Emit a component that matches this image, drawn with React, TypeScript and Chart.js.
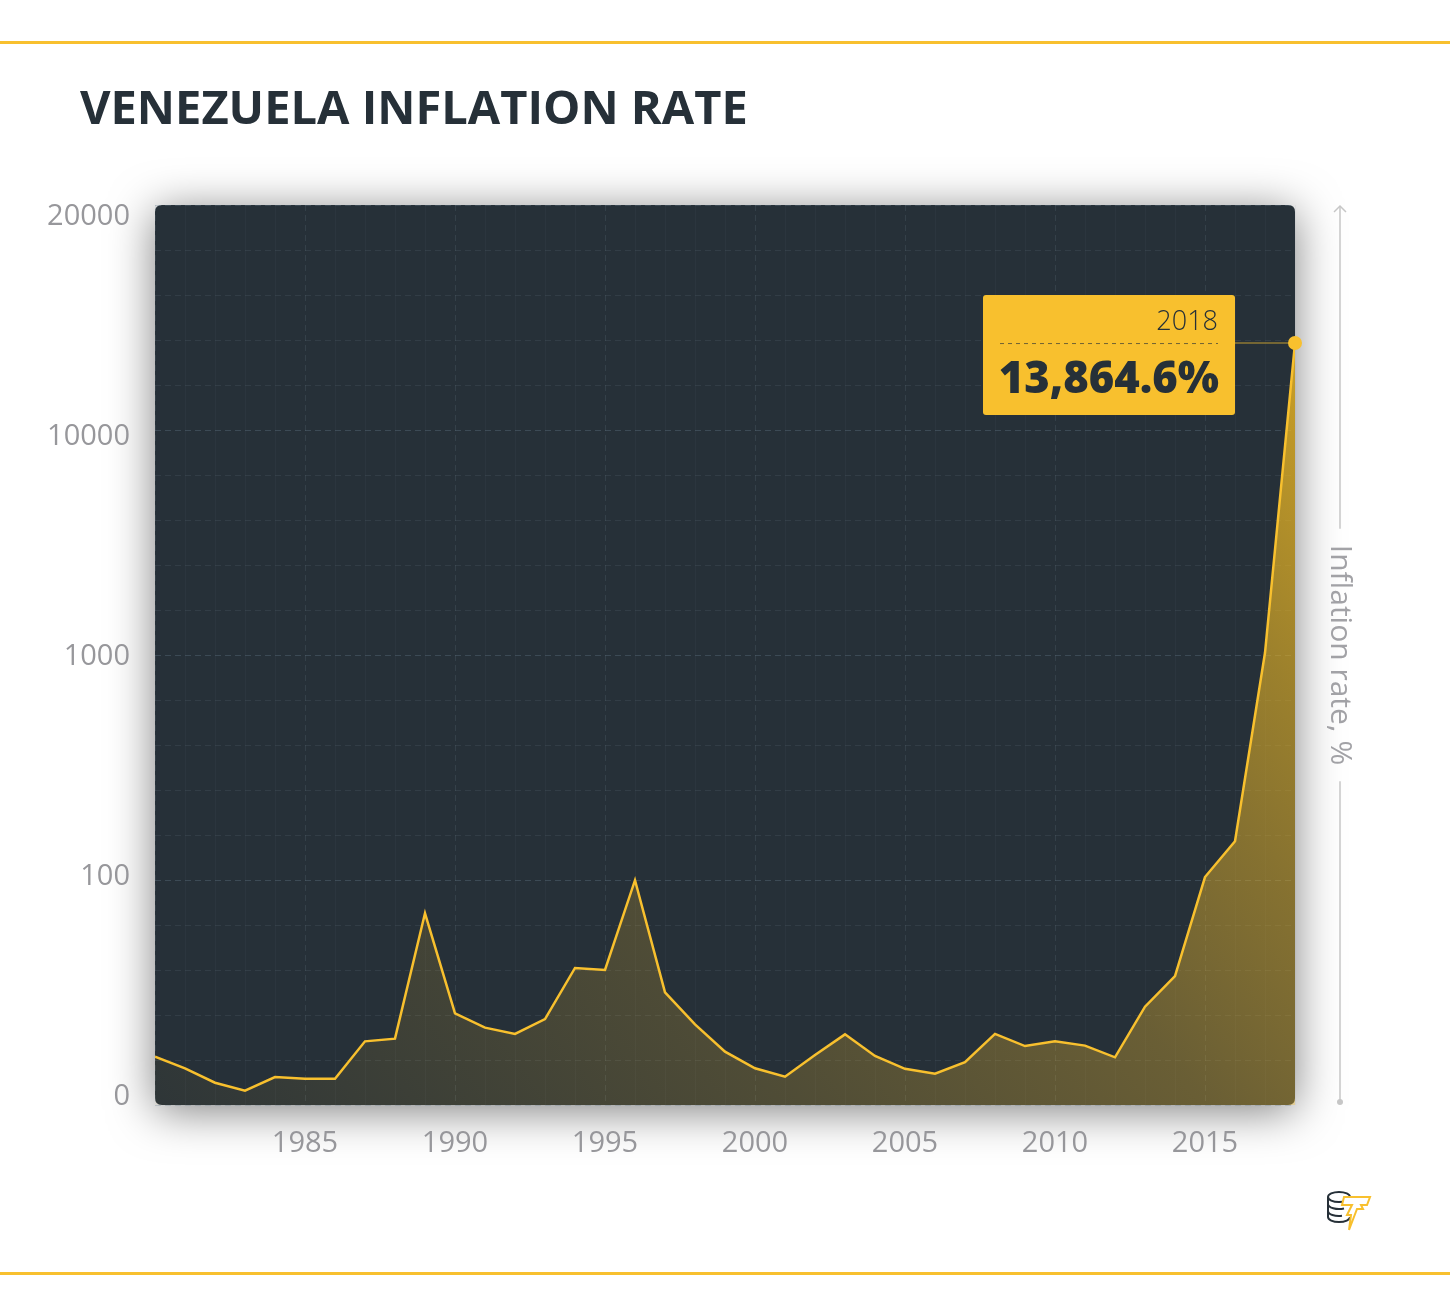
import React, { useEffect, useRef } from 'react';
import { Chart, registerables, LinearScale } from 'chart.js';

Chart.register(...registerables);

// ---------- data ----------
const years = [
  1980, 1981, 1982, 1983, 1984, 1985, 1986, 1987, 1988, 1989,
  1990, 1991, 1992, 1993, 1994, 1995, 1996, 1997, 1998, 1999,
  2000, 2001, 2002, 2003, 2004, 2005, 2006, 2007, 2008, 2009,
  2010, 2011, 2012, 2013, 2014, 2015, 2016, 2017, 2018,
];
const inflation = [
  21.5, 16.3, 9.9, 6.4, 12.4, 11.7, 11.7, 28.3, 29.5, 85.2,
  40.7, 34.4, 31.6, 38.2, 60.9, 60.0, 99.9, 50.1, 35.8, 23.7,
  16.3, 12.6, 22.2, 31.4, 21.8, 16.1, 13.9, 19.0, 31.6, 26.2,
  28.3, 26.4, 21.2, 43.7, 57.3, 111.8, 254.9, 1087.5, 13864.6,
];
const yTickValues = [0, 100, 1000, 10000, 20000];
const xLabelYears = [1985, 1990, 1995, 2000, 2005, 2010, 2015];
const titleText = 'VENEZUELA INFLATION RATE';
const axisTitle = 'Inflation rate, %';

// ---------- piecewise-linear y scale (equal spacing between break ticks) ----------
const toIndex = (v: number) => {
  const b = yTickValues;
  if (v <= b[0]) return 0;
  for (let i = 1; i < b.length; i++) {
    if (v <= b[i]) return i - 1 + (v - b[i - 1]) / (b[i] - b[i - 1]);
  }
  return b.length - 1;
};
const fromIndex = (idx: number) => {
  const b = yTickValues;
  const i = Math.max(0, Math.min(b.length - 2, Math.floor(idx)));
  return b[i] + (idx - i) * (b[i + 1] - b[i]);
};

class PiecewiseScale extends (LinearScale as any) {
  static id = 'piecewise';
  static defaults = {};
  determineDataLimits() {
    this.min = yTickValues[0];
    this.max = yTickValues[yTickValues.length - 1];
  }
  buildTicks() {
    const ticks: any[] = [];
    for (let i = 0; i < yTickValues.length; i++) {
      ticks.push({ value: yTickValues[i], major: true });
      if (i < yTickValues.length - 1) {
        for (let k = 1; k < 5; k++) {
          ticks.push({
            value: yTickValues[i] + ((yTickValues[i + 1] - yTickValues[i]) * k) / 5,
            major: false,
          });
        }
      }
    }
    return ticks;
  }
  getPixelForValue(value: number) {
    if (value === null || value === undefined || isNaN(value)) return NaN;
    return this.getPixelForDecimal(toIndex(value) / (yTickValues.length - 1));
  }
  getValueForPixel(pixel: number) {
    return fromIndex(this.getDecimalForPixel(pixel) * (yTickValues.length - 1));
  }
}
Chart.register(PiecewiseScale as any);

// ---------- styles ----------
const YELLOW = '#f8c02e';
const DARK = '#263038';
const GRAY_TEXT = '#97979b';
const FONT = "'Open Sans', 'Noto Sans', sans-serif";

const roundRectPath = (ctx: CanvasRenderingContext2D, x: number, y: number, w: number, h: number, r: number) => {
  ctx.beginPath();
  ctx.moveTo(x + r, y);
  ctx.lineTo(x + w - r, y);
  ctx.quadraticCurveTo(x + w, y, x + w, y + r);
  ctx.lineTo(x + w, y + h - r);
  ctx.quadraticCurveTo(x + w, y + h, x + w - r, y + h);
  ctx.lineTo(x + r, y + h);
  ctx.quadraticCurveTo(x, y + h, x, y + h - r);
  ctx.lineTo(x, y + r);
  ctx.quadraticCurveTo(x, y, x + r, y);
  ctx.closePath();
};

const panelPlugin = {
  id: 'panel',
  beforeDraw(chart: any) {
    const { ctx, chartArea: a } = chart;
    ctx.save();
    ctx.shadowColor = 'rgba(0,0,0,0.5)';
    ctx.shadowBlur = 45;
    ctx.shadowOffsetY = 6;
    ctx.fillStyle = DARK;
    roundRectPath(ctx, a.left, a.top, a.right - a.left, a.bottom - a.top, 7);
    ctx.fill();
    ctx.restore();
  },
  beforeDatasetDraw(chart: any, args: any) {
    if (args.index !== 0) return;
    const { ctx, chartArea: a } = chart;
    ctx.save();
    roundRectPath(ctx, a.left, a.top, a.right - a.left, a.bottom - a.top, 7);
    ctx.clip();
  },
  afterDatasetDraw(chart: any, args: any) {
    if (args.index !== 0) return;
    chart.ctx.restore();
  },
};

const decorPlugin = {
  id: 'decor',
  afterDraw(chart: any) {
    const { ctx, chartArea: a } = chart;
    // right-side axis line with title
    const x = a.right + 45;
    const cy = (a.top + a.bottom) / 2;
    ctx.save();
    ctx.font = `30px ${FONT}`;
    const tw = ctx.measureText(axisTitle).width;
    ctx.strokeStyle = '#c6c6c6';
    ctx.lineWidth = 1.5;
    ctx.beginPath();
    ctx.moveTo(x, a.top + 1);
    ctx.lineTo(x, cy - tw / 2 - 16);
    ctx.moveTo(x, cy + tw / 2 + 16);
    ctx.lineTo(x, a.bottom - 3);
    ctx.stroke();
    ctx.beginPath();
    ctx.moveTo(x - 6, a.top + 7);
    ctx.lineTo(x, a.top + 1);
    ctx.lineTo(x + 6, a.top + 7);
    ctx.stroke();
    ctx.fillStyle = '#c6c6c6';
    ctx.beginPath();
    ctx.arc(x, a.bottom - 3, 3, 0, Math.PI * 2);
    ctx.fill();
    ctx.translate(x, cy);
    ctx.rotate(Math.PI / 2);
    ctx.fillStyle = '#a2a2a6';
    ctx.textAlign = 'center';
    ctx.textBaseline = 'middle';
    ctx.fillText(axisTitle, 0, 0);
    ctx.restore();

    // callout for the last point
    const meta = chart.getDatasetMeta(1);
    const last = meta.data[meta.data.length - 1];
    if (!last) return;
    const px = last.x;
    const py = last.y;
    const w = 252;
    const h = 120;
    const right = px - 60;
    const left = right - w;
    const top = py - 48;
    ctx.save();
    ctx.strokeStyle = 'rgba(248,192,46,0.5)';
    ctx.lineWidth = 1.5;
    ctx.beginPath();
    ctx.moveTo(right, py);
    ctx.lineTo(px - 6, py);
    ctx.stroke();
    ctx.fillStyle = YELLOW;
    roundRectPath(ctx, left, top, w, h, 3);
    ctx.fill();
    ctx.fillStyle = DARK;
    ctx.textAlign = 'right';
    ctx.textBaseline = 'alphabetic';
    ctx.font = `300 27px ${FONT}`;
    ctx.fillText(String(years[years.length - 1]), right - 17, py - 13);
    ctx.strokeStyle = 'rgba(38,48,56,0.65)';
    ctx.lineWidth = 1;
    ctx.setLineDash([4, 4]);
    ctx.beginPath();
    ctx.moveTo(left + 17, py + 0.5);
    ctx.lineTo(right - 17, py + 0.5);
    ctx.stroke();
    ctx.setLineDash([]);
    ctx.font = `800 43.5px ${FONT}`;
    const val = inflation[inflation.length - 1].toLocaleString('en-US', {
      minimumFractionDigits: 1,
      maximumFractionDigits: 1,
    });
    ctx.fillText(val + '%', right - 16, py + 50);
    ctx.restore();
  },
};

function ChartCanvas() {
  const ref = useRef<HTMLCanvasElement | null>(null);
  useEffect(() => {
    if (!ref.current) return;
    const points = years.map((yr, i) => ({ x: yr, y: inflation[i] }));
    const lastIdx = points.length - 1;
    const fillGradient = (c: any) => {
      const chart = c.chart;
      const a = chart.chartArea;
      if (!a) return 'rgba(248,192,46,0.3)';
      const g = chart.ctx.createLinearGradient(a.left, a.bottom, a.right, a.top);
      g.addColorStop(0, 'rgba(248,192,46,0.04)');
      g.addColorStop(0.35, 'rgba(248,192,46,0.2)');
      g.addColorStop(0.57, 'rgba(248,192,46,0.32)');
      g.addColorStop(0.7, 'rgba(240,186,40,0.47)');
      g.addColorStop(0.79, 'rgba(240,186,36,0.58)');
      g.addColorStop(0.91, 'rgba(244,188,34,0.75)');
      g.addColorStop(1, 'rgba(248,192,40,0.88)');
      return g;
    };
    const chart = new Chart(ref.current, {
      type: 'line',
      data: {
        datasets: [
          {
            data: points,
            borderColor: YELLOW,
            borderWidth: 2.5,
            backgroundColor: fillGradient,
            fill: 'start',
            pointRadius: 0,
            tension: 0,
            clip: false as any,
          },
          {
            data: points,
            showLine: false,
            fill: false,
            pointRadius: (c: any) => (c.dataIndex === lastIdx ? 7 : 0),
            pointBackgroundColor: YELLOW,
            pointBorderWidth: 0,
            clip: false as any,
          },
        ],
      },
      options: {
        animation: false,
        responsive: false,
        devicePixelRatio: 1,
        events: [],
        layout: { padding: { left: 0, right: 155, top: 205, bottom: 111 } },
        plugins: { legend: { display: false }, tooltip: { enabled: false } },
        scales: {
          x: {
            type: 'linear',
            min: years[0],
            max: years[years.length - 1],
            ticks: {
              stepSize: 1,
              autoSkip: false,
              maxRotation: 0,
              padding: 21,
              color: GRAY_TEXT,
              font: { family: FONT, size: 29 },
              callback: (v: any) => (xLabelYears.includes(Number(v)) ? String(v) : ''),
            },
            grid: {
              drawTicks: false,
              color: (c: any) =>
                c.tick && c.tick.value % 5 === 0 ? 'rgba(110,130,145,0.2)' : 'rgba(110,130,145,0.07)',
              lineWidth: 1,
            },
            border: {
              display: false,
              dash: (c: any) => (c.tick && c.tick.value % 5 === 0 ? [6, 4] : []),
            },
            afterFit: (s: any) => {
              s.height = 100;
            },
          },
          y: {
            type: 'piecewise' as any,
            position: 'left',
            ticks: { display: false },
            grid: {
              drawTicks: false,
              color: (c: any) =>
                c.tick && c.tick.major ? 'rgba(110,130,145,0.32)' : 'rgba(110,130,145,0.17)',
              lineWidth: 1,
            },
            border: { display: false, dash: [6, 4] },
            afterFit: (s: any) => {
              s.width = 0;
            },
          } as any,
          yLabels: {
            type: 'linear',
            position: 'left',
            min: -10 / 220,
            max: yTickValues.length - 1 + 10 / 220,
            afterBuildTicks: (s: any) => {
              s.ticks = yTickValues.map((_, i) => ({ value: i }));
            },
            ticks: {
              padding: 25,
              labelOffset: 2,
              color: GRAY_TEXT,
              font: { family: FONT, size: 29 },
              callback: (v: any) => String(yTickValues[Number(v)] ?? ''),
            },
            grid: { display: false, drawTicks: false },
            border: { display: false },
            afterFit: (s: any) => {
              s.width = 155;
            },
          },
        },
      },
      plugins: [panelPlugin, decorPlugin],
    } as any);
    return () => chart.destroy();
  }, []);
  return (
    <canvas
      ref={ref}
      width={1450}
      height={1316}
      style={{ position: 'absolute', left: 0, top: 0, width: 1450, height: 1316, display: 'block' }}
    />
  );
}

function Logo() {
  return (
    <svg
      width={50}
      height={46}
      viewBox="0 0 50 46"
      style={{ position: 'absolute', left: 1325, top: 1189 }}
    >
      <g fill="none" stroke={DARK} strokeWidth={2}>
        <ellipse cx={14} cy={8} rx={11} ry={5} />
        <path d="M3 8 v20 a11 5 0 0 0 22 0" />
        <path d="M3 15 a11 5 0 0 0 16 4.5" />
        <path d="M3 22 a11 5 0 0 0 14 4.8" />
      </g>
      <path
        d="M19 8 L45 8 L42 16 L36 16 L38 20 L32 20 L24 41 L26 26 L22 26 L27 16 L17 16 Z"
        fill="#ffffff"
        stroke={YELLOW}
        strokeWidth={2}
        strokeLinejoin="miter"
      />
    </svg>
  );
}

export default function App() {
  useEffect(() => {
    document.body.style.margin = '0';
  }, []);
  return (
    <div
      style={{
        position: 'relative',
        width: 1450,
        height: 1316,
        overflow: 'hidden',
        background: '#ffffff',
        fontFamily: FONT,
      }}
    >
      <div style={{ position: 'absolute', left: 0, top: 41, width: 1450, height: 3, background: YELLOW }} />
      <div style={{ position: 'absolute', left: 0, top: 1272, width: 1450, height: 3, background: YELLOW }} />
      <ChartCanvas />
      <h1
        style={{
          position: 'absolute',
          left: 80,
          top: 83,
          margin: 0,
          fontFamily: FONT,
          fontWeight: 700,
          fontSize: 47,
          lineHeight: 1,
          color: DARK,
          whiteSpace: 'nowrap',
        }}
      >
        {titleText}
      </h1>
      <Logo />
    </div>
  );
}
